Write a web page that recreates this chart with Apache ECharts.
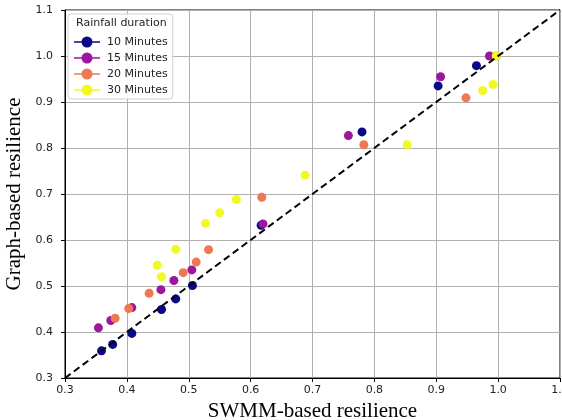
<!DOCTYPE html>
<html>
<head>
<meta charset="utf-8">
<script src="https://cdn.jsdelivr.net/npm/echarts@6/dist/echarts.min.js"></script>
<style>
  html, body { margin: 0; padding: 0; background: #fff; }
  #chart { width: 562px; height: 420px; }
</style>
</head>
<body>
<div id="chart"></div>
<script>
// values: [SWMM-based, graph-based]
const min10 = [[0.359, 0.359], [0.377, 0.373], [0.408, 0.397], [0.456, 0.449], [0.479, 0.472],
  [0.506, 0.501], [0.617, 0.632], [0.780, 0.835], [0.903, 0.935], [0.965, 0.979]]
const min15 = [[0.354, 0.409], [0.374, 0.425], [0.408, 0.453], [0.455, 0.492], [0.476, 0.512],
  [0.505, 0.535], [0.620, 0.635], [0.758, 0.827], [0.907, 0.955], [0.986, 1.0]]
const min20 = [[0.381, 0.430], [0.403, 0.451], [0.436, 0.484], [0.491, 0.529], [0.512, 0.552],
  [0.532, 0.579], [0.618, 0.693], [0.783, 0.807], [0.948, 0.909], [0.997, 1.0]]
const min30 = [[0.449, 0.545], [0.456, 0.520], [0.479, 0.580], [0.527, 0.636], [0.550, 0.659],
  [0.577, 0.688], [0.688, 0.741], [0.853, 0.807], [0.975, 0.925], [0.992, 0.938], [0.997, 1.0]]
const diagonal = [[0.3, 0.3], [1.1, 1.1]]

const seriesNames = ['10 Minutes', '15 Minutes', '20 Minutes', '30 Minutes']
const seriesColors = ['#0d0887', '#9c179e', '#ed7953', '#f0f921']
const seriesData = [min10, min15, min20, min30]

const tickFont = { color: '#222', fontSize: 11, fontFamily: 'DejaVu Sans' }

const chart = echarts.init(document.getElementById('chart'))

const scatterSeries = seriesData.map((d, i) => ({
  name: seriesNames[i],
  type: 'scatter',
  data: d,
  symbolSize: 9,
  itemStyle: { color: seriesColors[i], opacity: 1 },
  z: 3 + i
}))

chart.setOption({
  animation: false,
  grid: {
    left: 65, right: 2, top: 10, bottom: 42,
    containLabel: false,
    outerBoundsMode: 'none',
    show: true, borderColor: '#000', borderWidth: 1
  },
  xAxis: {
    type: 'value',
    min: 0.3, max: 1.1, interval: 0.1,
    name: 'SWMM-based resilience',
    nameLocation: 'middle',
    nameGap: 23,
    nameTextStyle: { fontFamily: 'Liberation Serif', fontSize: 21, color: '#000' },
    axisLine: { show: true, lineStyle: { color: '#000' } },
    axisTick: { show: true, length: 4, lineStyle: { color: '#000' } },
    axisLabel: Object.assign({ formatter: v => v.toFixed(1), margin: 7 }, tickFont),
    splitLine: { show: true, lineStyle: { color: '#b0b0b0', width: 1 } }
  },
  yAxis: {
    type: 'value',
    min: 0.3, max: 1.1, interval: 0.1,
    name: 'Graph-based resilience',
    nameLocation: 'middle',
    nameGap: 34,
    nameTextStyle: { fontFamily: 'Liberation Serif', fontSize: 21, color: '#000' },
    axisLine: { show: true, lineStyle: { color: '#000' } },
    axisTick: { show: true, length: 4, lineStyle: { color: '#000' } },
    axisLabel: Object.assign({ formatter: v => v.toFixed(1), margin: 12 }, tickFont),
    splitLine: { show: true, lineStyle: { color: '#b0b0b0', width: 1 } }
  },
  legend: {
    data: seriesNames,
    orient: 'vertical',
    left: 68, top: 14,
    z: 50,
    padding: [22, 5, 3, 6],
    itemGap: 4,
    itemWidth: 26, itemHeight: 12,
    backgroundColor: 'rgba(255,255,255,0.85)',
    borderColor: '#d0d0d0', borderWidth: 1, borderRadius: 3,
    icon: 'path://M0,5.3 L26,5.3 L26,6.7 L0,6.7 Z M18.5,6 A5.5,5.5 0 1,1 7.5,6 A5.5,5.5 0 1,1 18.5,6 Z',
    textStyle: { fontFamily: 'DejaVu Sans', fontSize: 11, lineHeight: 12, color: '#222', padding: [0, 0, 0, 2] }
  },
  graphic: [
    {
      type: 'text', left: 76, top: 18, z: 200, silent: true,
      style: { text: 'Rainfall duration', fontFamily: 'DejaVu Sans', fontSize: 11, fill: '#222' }
    }
  ],
  series: [
    {
      type: 'line',
      data: diagonal,
      symbol: 'none',
      silent: true,
      lineStyle: { color: '#000', width: 2, type: [7, 4] },
      z: 10
    }
  ].concat(scatterSeries)
})
</script>
</body>
</html>
